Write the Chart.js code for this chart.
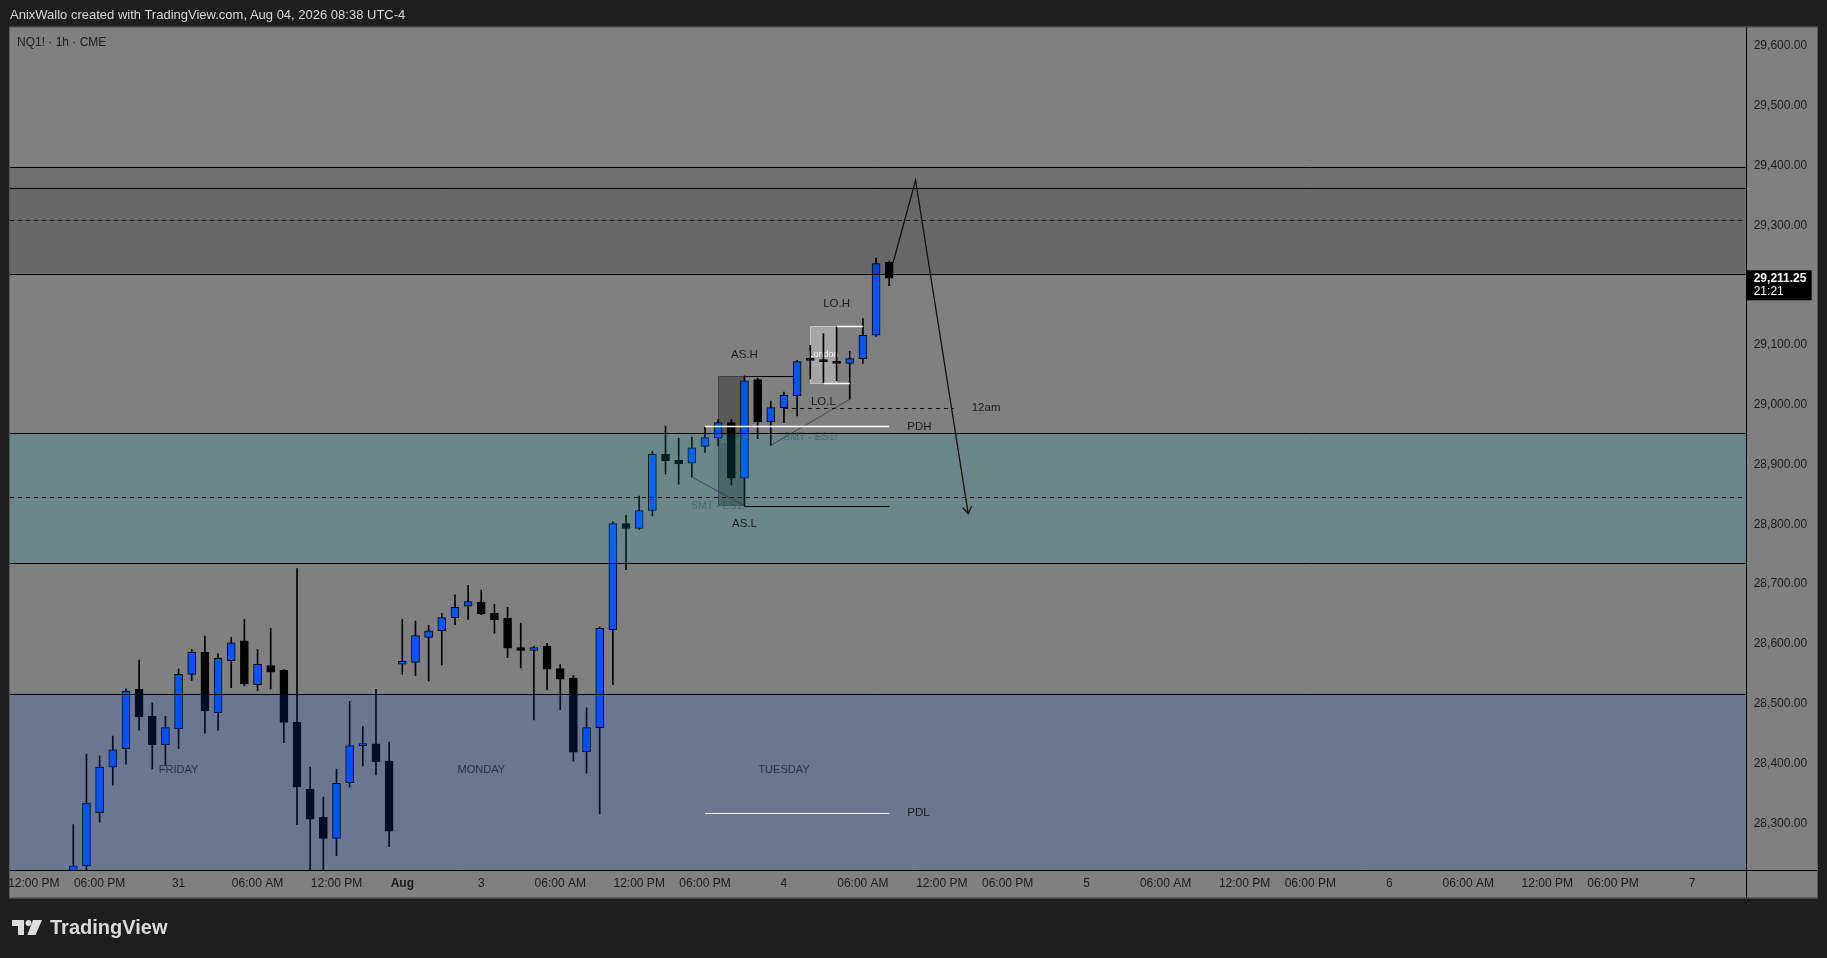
<!DOCTYPE html>
<html>
<head>
<meta charset="utf-8">
<title>NQ1! · 1h · CME</title>
<script src="https://cdn.jsdelivr.net/npm/chart.js@4.4.1/dist/chart.umd.min.js"></script>
<style>
  html, body { margin: 0; padding: 0; background: #1e1e1e; overflow: hidden; }
  #wrap { position: relative; width: 1827px; height: 958px; }
  #wrap canvas { position: absolute; left: 0; top: 0; }
  .hdr { position: absolute; left: 10px; top: 7px; line-height: 16px; font: 13px "Liberation Sans", Arial, sans-serif; color: #d6d6d6; }
  .logo { position: absolute; left: 12px; top: 917px; height: 20px; display: flex; align-items: center; gap: 8px;
          font: bold 20px "Liberation Sans", Arial, sans-serif; color: #dcdcdc; line-height: 20px; }
</style>
</head>
<body>
<div id="wrap">
  <canvas id="c" width="1827" height="958"></canvas>
  <div class="hdr">AnixWallo created with TradingView.com, Aug 04, 2026 08:38 UTC-4</div>
  <div class="logo">
    <svg width="30" height="15" viewBox="0 0 30 15"><path d="M0 0h12v15H6V6H0z" fill="#dcdcdc"/><circle cx="16.5" cy="3" r="3" fill="#dcdcdc"/><path d="M21 0h9l-6.5 15h-8.2z" fill="#dcdcdc"/></svg>
    <span>TradingView</span>
  </div>
</div>
<script>
// ---------- hourly bars, index 0 = Thu Jul 30 12:00 PM (no bar at 17:00, no weekend bars) ----------
const barIndex = [3, 4, 5, 6, 7, 8, 9, 10, 11, 12, 13, 14, 15, 16, 17, 18, 19, 20, 21, 22, 23, 24, 25, 26, 27,
  28, 29, 30, 31, 32, 33, 34, 35, 36, 37, 38, 39, 40, 41, 42, 43, 44, 45, 46, 47, 48, 49, 50,
  51, 52, 53, 54, 55, 56, 57, 58, 59, 60, 61, 62, 63, 64, 65];
const opens = [28212, 28229, 28318, 28394, 28425, 28524, 28479, 28431, 28458, 28549, 28586, 28485, 28572, 28605, 28532, 28564, 28556, 28469, 28357, 28310, 28275, 28368, 28430, 28433, 28404,
  28566, 28569, 28611, 28622, 28644, 28663, 28670, 28651, 28643, 28594, 28589, 28596, 28559, 28543, 28420, 28460, 28624, 28801, 28793, 28823, 28917, 28907, 28902,
  28930, 28944, 28970, 28877, 29042, 28971, 28995, 29015, 29075, 29073, 29072, 29069, 29077, 29116, 29238];
const highs = [28298, 28416, 28413, 28446, 28525, 28573, 28501, 28479, 28558, 28591, 28613, 28584, 28611, 28641, 28591, 28626, 28557, 28726, 28394, 28344, 28391, 28504, 28462, 28524, 28436,
  28641, 28638, 28631, 28651, 28682, 28698, 28690, 28666, 28661, 28635, 28596, 28601, 28566, 28547, 28493, 28628, 28804, 28815, 28847, 28922, 28964, 28944, 28946,
  28962, 28975, 28975, 29048, 29044, 29006, 29021, 29074, 29099, 29119, 29131, 29089, 29144, 29245, 29240];
const lows = [28200, 28222, 28302, 28364, 28399, 28456, 28391, 28397, 28425, 28539, 28451, 28456, 28527, 28530, 28522, 28525, 28435, 28298, 28210, 28215, 28246, 28361, 28396, 28381, 28261,
  28549, 28547, 28538, 28565, 28632, 28641, 28649, 28618, 28577, 28560, 28473, 28523, 28490, 28404, 28384, 28316, 28532, 28724, 28791, 28814, 28884, 28867, 28879,
  28920, 28931, 28866, 28831, 28943, 28932, 28970, 28981, 29043, 29036, 29040, 29009, 29069, 29114, 29199];
const closes = [28229, 28334, 28394, 28423, 28521, 28478, 28431, 28460, 28549, 28586, 28488, 28576, 28602, 28533, 28566, 28553, 28469, 28361, 28307, 28275, 28367, 28430, 28433, 28403, 28287,
  28571, 28614, 28622, 28644, 28661, 28671, 28650, 28640, 28593, 28589, 28594, 28558, 28541, 28419, 28460, 28626, 28801, 28793, 28823, 28917, 28906, 28901, 28928,
  28945, 28970, 28877, 29040, 28971, 28995, 29016, 29072, 29074, 29072, 29069, 29077, 29116, 29236, 29211.25];

// ---------- axes ----------
const timeTickIdx = [0, 5, 11, 17, 23, 28, 34, 40, 46, 51, 57, 63, 69, 74, 80, 86, 92, 97, 103, 109, 115, 120, 126];
const timeTickText = ["12:00 PM", "06:00 PM", "31", "06:00 AM", "12:00 PM", "Aug", "3", "06:00 AM", "12:00 PM", "06:00 PM",
  "4", "06:00 AM", "12:00 PM", "06:00 PM", "5", "06:00 AM", "12:00 PM", "06:00 PM", "6", "06:00 AM", "12:00 PM", "06:00 PM", "7"];
const priceTicks = [28300, 28400, 28500, 28600, 28700, 28800, 28900, 29000, 29100, 29200, 29300, 29400, 29500, 29600];

// ---------- drawings ----------
const premiumZone = [29397, 29219];      // outer dark box
const premiumInner = [29363, 29219];     // inner dark box
const premiumMid = 29308.5;              // dashed
const fvgZone = [28952, 28736];          // teal box
const fvgMid = 28845;                    // dashed
const discountTop = 28517;               // blue box top

const levelNames = ["PDH", "PDL", "12am", "AS.H", "AS.L", "LO.H", "LO.L"];
const levelPrices = [28963.5, 28317, 28995, 29047.7, 28831.4, 29131, 29035.5];
const levelStart = [51, 51, 57, 54, 54, 61, 60];
const levelEnd = [65, 65, 69.9, 57.7, 65, 63, 62];

const sessionNames = ["Asia", "London"];
const sessionFrom = [52, 59];
const sessionTo = [54, 61];
const sessionHigh = [29047.7, 29131];
const sessionLow = [28831.4, 29035.5];

const smtFromIdx = [50, 56];
const smtFromPrice = [28879, 28932];
const smtToIdx = [54, 62];
const smtToPrice = [28831, 29009];

const dayNames = ["FRIDAY", "MONDAY", "TUESDAY"];
const dayIdx = [11, 34, 57];
const dayLabelPrice = 28390;

const projIdx = [65.3, 67, 71];
const projPrice = [29238, 29375, 28818];

const countdown = "21:21";

const FONT = '"Liberation Sans", Arial, sans-serif';
const BULL = "#0055ff";
const BEAR = "#000000";

const tickLabelAt = (v) => { const i = timeTickIdx.indexOf(v); return i >= 0 ? timeTickText[i] : ""; };
const fmtPrice = (v) => v.toLocaleString("en-US", { minimumFractionDigits: 2, maximumFractionDigits: 2 });

function crisp(v) { return Math.round(v) + 0.5; }

function hLine(ctx, x1, x2, y, color, width, dash) {
  ctx.save();
  ctx.strokeStyle = color;
  ctx.lineWidth = width;
  ctx.setLineDash(dash || []);
  ctx.beginPath();
  ctx.moveTo(x1, crisp(y));
  ctx.lineTo(x2, crisp(y));
  ctx.stroke();
  ctx.restore();
}

function text(ctx, str, x, y, align, color, font) {
  ctx.save();
  ctx.fillStyle = color;
  ctx.font = font;
  ctx.textAlign = align;
  ctx.textBaseline = "middle";
  ctx.fillText(str, x, y);
  ctx.restore();
}

function clipArea(ctx, a) {
  ctx.beginPath();
  ctx.rect(a.left, a.top, a.right - a.left, a.bottom - a.top);
  ctx.clip();
}

const tvDrawings = {
  id: "tvDrawings",
  beforeDraw(chart) {
    const { ctx, chartArea: a, scales: { x, y } } = chart;
    ctx.save();
    ctx.fillStyle = "#808080";
    ctx.fillRect(a.left, a.top, y.right - a.left, x.bottom - a.top);
    ctx.strokeStyle = "#5a5a5a";
    ctx.lineWidth = 1;
    ctx.strokeRect(a.left - 0.5, a.top - 0.5, y.right - a.left + 1, x.bottom - a.top + 1);
    ctx.restore();
  },
  // session boxes sit behind the candles
  beforeDatasetsDraw(chart) {
    const { ctx, chartArea: a, scales: { x, y } } = chart;
    ctx.save();
    clipArea(ctx, a);
    sessionNames.forEach((name, i) => {
      const x1 = x.getPixelForValue(sessionFrom[i]), x2 = x.getPixelForValue(sessionTo[i]);
      const y1 = y.getPixelForValue(sessionHigh[i]), y2 = y.getPixelForValue(sessionLow[i]);
      const asia = name === "Asia";
      ctx.fillStyle = asia ? "rgba(0,0,0,0.3)" : "rgba(255,255,255,0.3)";
      ctx.fillRect(x1, y1, x2 - x1, y2 - y1);
      ctx.strokeStyle = asia ? "rgba(0,0,0,0.3)" : "rgba(255,255,255,0.45)";
      ctx.lineWidth = 1;
      ctx.strokeRect(crisp(x1), crisp(y1), Math.round(x2 - x1), Math.round(y2 - y1));
      text(ctx, name, (x1 + x2) / 2, (y1 + y2) / 2, "center",
        asia ? "rgba(120,140,145,0.55)" : "rgba(255,255,255,0.85)",
        (asia ? "11px " : "9px ") + FONT);
    });
    ctx.restore();
  },
  // translucent zones lie over the candles (dataset 0 = bodies)
  afterDatasetDraw(chart, args) {
    if (args.index !== 0) return;
    const { ctx, chartArea: a, scales: { y } } = chart;
    const w = a.right - a.left;
    ctx.save();
    clipArea(ctx, a);
    let t = y.getPixelForValue(premiumZone[0]), b = y.getPixelForValue(premiumZone[1]);
    ctx.fillStyle = "rgba(0,0,0,0.13)";
    ctx.fillRect(a.left, t, w, b - t);
    t = y.getPixelForValue(premiumInner[0]); b = y.getPixelForValue(premiumInner[1]);
    ctx.fillStyle = "rgba(0,0,0,0.055)";
    ctx.fillRect(a.left, t, w, b - t);
    t = y.getPixelForValue(fvgZone[0]); b = y.getPixelForValue(fvgZone[1]);
    ctx.fillStyle = "rgba(0,170,195,0.165)";
    ctx.fillRect(a.left, t, w, b - t);
    t = y.getPixelForValue(discountTop);
    ctx.fillStyle = "rgba(0,73,230,0.165)";
    ctx.fillRect(a.left, t, w, a.bottom - t);

    [premiumZone[0], premiumInner[0], premiumZone[1], fvgZone[0], fvgZone[1], discountTop].forEach((p) =>
      hLine(ctx, a.left, a.right, y.getPixelForValue(p), "#000", 1));
    [premiumMid, fvgMid].forEach((p) =>
      hLine(ctx, a.left, a.right, y.getPixelForValue(p), "#000", 1, [4, 4]));
    ctx.restore();
  },
  afterDatasetsDraw(chart) {
    const { ctx, chartArea: a, scales: { x, y } } = chart;
    const labelFont = "11.5px " + FONT;
    ctx.save();
    clipArea(ctx, a);

    // SMT divergence lines
    smtFromIdx.forEach((fi, i) => {
      const x1 = x.getPixelForValue(fi), y1 = y.getPixelForValue(smtFromPrice[i]);
      const x2 = x.getPixelForValue(smtToIdx[i]), y2 = y.getPixelForValue(smtToPrice[i]);
      ctx.save();
      ctx.strokeStyle = "rgba(45,55,75,0.75)";
      ctx.lineWidth = 1;
      ctx.beginPath(); ctx.moveTo(x1, y1); ctx.lineTo(x2, y2); ctx.stroke();
      ctx.restore();
      text(ctx, "SMT - ES1!", (x1 + x2) / 2, (y1 + y2) / 2 + 15, "center", "rgba(55,80,85,0.55)", "10.5px " + FONT);
    });

    // session / liquidity levels
    levelNames.forEach((name, i) => {
      const x1 = x.getPixelForValue(levelStart[i]), x2 = x.getPixelForValue(levelEnd[i]);
      const yy = y.getPixelForValue(levelPrices[i]);
      if (name === "PDH" || name === "LO.H" || name === "LO.L") hLine(ctx, x1, x2, yy, "#ffffff", 1.5);
      else if (name === "PDL") hLine(ctx, x1, x2, yy, "rgba(255,255,255,0.85)", 1);
      else if (name === "12am") hLine(ctx, x1, x2, yy, "#000", 1, [4, 4]);
      else hLine(ctx, x1, x2, yy, "#000", 1);

      if (name === "PDH" || name === "PDL" || name === "12am") text(ctx, name, x2 + 18, yy, "left", "#1a1a1a", labelFont);
      else if (name === "AS.H") text(ctx, name, x1, yy - 21, "center", "#1a1a1a", labelFont);
      else if (name === "LO.H") text(ctx, name, x1, yy - 22, "center", "#1a1a1a", labelFont);
      else text(ctx, name, x1, yy + 18, "center", "#1a1a1a", labelFont);
    });

    // day separators' names
    dayNames.forEach((d, i) =>
      text(ctx, d, x.getPixelForValue(dayIdx[i]), y.getPixelForValue(dayLabelPrice), "center", "#2a3150", "11px " + FONT));

    // arrow head on the projection path
    const n = projIdx.length;
    const tx = x.getPixelForValue(projIdx[n - 1]), ty = y.getPixelForValue(projPrice[n - 1]);
    const sx = x.getPixelForValue(projIdx[n - 2]), sy = y.getPixelForValue(projPrice[n - 2]);
    const ang = Math.atan2(ty - sy, tx - sx);
    ctx.strokeStyle = "#111";
    ctx.lineWidth = 1.3;
    ctx.beginPath();
    ctx.moveTo(tx - 8 * Math.cos(ang - 0.6), ty - 8 * Math.sin(ang - 0.6));
    ctx.lineTo(tx, ty);
    ctx.lineTo(tx - 8 * Math.cos(ang + 0.6), ty - 8 * Math.sin(ang + 0.6));
    ctx.stroke();

    text(ctx, "NQ1! · 1h · CME", a.left + 7, a.top + 15, "left", "#1c1c1c", "12px " + FONT);
    ctx.restore();
  },
  afterDraw(chart) {
    const { ctx, chartArea: a, scales: { x, y } } = chart;
    ctx.save();
    ctx.strokeStyle = "#000";
    ctx.lineWidth = 1;
    ctx.beginPath();
    ctx.moveTo(a.left, crisp(a.bottom)); ctx.lineTo(y.right, crisp(a.bottom));
    ctx.moveTo(crisp(a.right), a.top); ctx.lineTo(crisp(a.right), x.bottom);
    ctx.stroke();

    // last price tag on the price scale
    const last = closes[closes.length - 1];
    const yp = y.getPixelForValue(last);
    ctx.fillStyle = "#000";
    ctx.fillRect(a.right + 1, yp - 8, 65, 30);
    text(ctx, fmtPrice(last), a.right + 8, yp, "left", "#ffffff", "bold 12px " + FONT);
    text(ctx, countdown, a.right + 8, yp + 13.5, "left", "#ffffff", "12px " + FONT);
    ctx.restore();
  },
};

const bodyData = barIndex.map((bx, i) => ({ x: bx, y: [opens[i], closes[i]] }));
const wickData = barIndex.map((bx, i) => ({ x: bx, y: [lows[i], highs[i]] }));
const bodyColors = barIndex.map((bx, i) => (closes[i] >= opens[i] ? BULL : BEAR));

new Chart(document.getElementById("c"), {
  type: "bar",
  data: {
    datasets: [
      { label: "body", data: bodyData, order: 1, grouped: false, barThickness: 8, minBarLength: 2,
        backgroundColor: bodyColors, borderColor: "#000", borderWidth: 1, borderSkipped: false },
      { label: "wick", data: wickData, order: 2, grouped: false, barThickness: 1,
        backgroundColor: "#000", borderWidth: 0 },
      { type: "line", label: "projection", data: projIdx.map((px, i) => ({ x: px, y: projPrice[i] })), order: 0,
        borderColor: "#111", borderWidth: 1.3, pointRadius: 0, tension: 0, fill: false },
    ],
  },
  options: {
    responsive: false, animation: false, devicePixelRatio: 1,
    layout: { padding: { left: 10, top: 27.3, right: 10, bottom: 60.3 } },
    plugins: { legend: { display: false }, tooltip: { enabled: false } },
    scales: {
      x: {
        type: "linear", min: -1.81, max: 130.08, offset: false,
        grid: { display: false, drawTicks: false }, border: { display: false },
        afterBuildTicks: (s) => { s.ticks = timeTickIdx.map((v) => ({ value: v })); },
        afterFit: (s) => { s.height = 27.4; },
        ticks: {
          autoSkip: false, maxRotation: 0, padding: 6, color: "#1a1a1a",
          font: (c) => ({ family: FONT, size: 12, weight: c.tick && tickLabelAt(c.tick.value) === "Aug" ? "bold" : "normal" }),
          callback: (v) => tickLabelAt(v),
        },
      },
      y: {
        position: "right", min: 28221.6, max: 29630.8,
        grid: { display: false, drawTicks: false }, border: { display: false },
        afterBuildTicks: (s) => { s.ticks = priceTicks.map((v) => ({ value: v })); },
        afterFit: (s) => { s.width = 71.3; },
        ticks: { padding: 8, color: "#1a1a1a", font: { family: FONT, size: 12 }, callback: (v) => fmtPrice(v) },
      },
    },
  },
  plugins: [tvDrawings],
});
</script>
</body>
</html>
